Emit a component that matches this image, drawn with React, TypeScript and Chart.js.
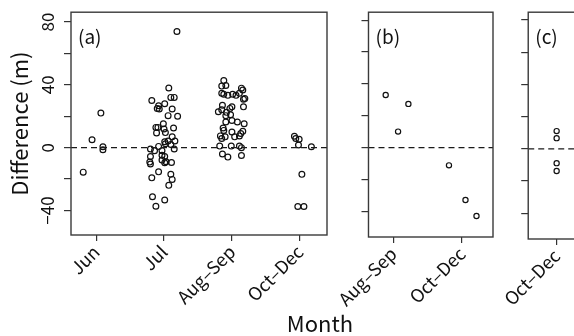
import React, { useEffect, useRef } from "react";
import { Chart, registerables } from "chart.js";

Chart.register(...registerables);

const FONT = "'Noto Sans CJK JP', 'DejaVu Sans', sans-serif";

// categories per panel
const catsA = ["Jun", "Jul", "Aug–Sep", "Oct–Dec"];
const catsB = ["Aug–Sep", "Oct–Dec"];
const catsC = ["Oct–Dec"];
const yLabelValues = [-40, 0, 40, 80];

// [jittered category position, difference (m)]
const aJun: number[][] = [
  [0.81, -15.6], [0.94, 5], [1.07, 22], [1.1, 0.6], [1.1, -1.3],
];
const aJul: number[][] = [
  [2.19, 74], [2.07, 38], [1.82, 30], [2.1, 32], [2.15, 32],
  [1.92, 26.7], [2.01, 28], [1.93, 24.6], [1.9, 25], [2.12, 24.6],
  [2.06, 20.4], [2.2, 20], [1.99, 15.2], [1.88, 12.9], [1.91, 12.9],
  [2.0, 11.9], [2.14, 12.5], [1.89, 9.4], [2.02, 9.6], [2.12, 6.9],
  [2.01, 3.8], [2.06, 4.2], [2.16, 4.2], [2.02, 2.5], [2.1, 2],
  [1.92, 0.8], [1.8, -0.8], [1.86, -1.9], [1.97, -1.9], [2.15, -0.8],
  [1.97, -4.9], [2.01, -5.6], [1.97, -7.9], [2.03, -9], [2.01, -9.6],
  [1.8, -5.6], [1.79, -9.2], [1.8, -10.4], [2.11, -9.4], [1.92, -15.4],
  [2.1, -17], [2.12, -20.2], [1.82, -19.2], [2.07, -24], [1.83, -31.2],
  [2.01, -33.3], [1.88, -37.3],
];
const aAugSep: number[][] = [
  [2.88, 42.7], [2.85, 39.2], [2.91, 39.6], [2.85, 34.6], [2.88, 34],
  [2.94, 33.3], [3.01, 34], [3.06, 33.3], [3.14, 37.9], [3.16, 36.7],
  [3.11, 34.6], [3.19, 31.3], [3.17, 30.8], [2.86, 27], [3.0, 26],
  [2.97, 25], [3.17, 26], [2.8, 22.9], [2.85, 24.2], [2.92, 22.5],
  [2.91, 20.4], [2.98, 21], [3.08, 16.3], [3.18, 15.2], [3.0, 17.3],
  [2.91, 16.3], [2.87, 12.5], [2.88, 11], [3.0, 10], [3.16, 10.4],
  [3.13, 9], [3.11, 7.5], [2.83, 7.5], [2.9, 6.9], [2.85, 5.8],
  [3.04, 6.9], [2.82, 1], [2.99, 1], [3.11, 1], [3.14, 0],
  [2.86, -4], [2.94, -6], [3.14, -5],
];
const aOctDec: number[][] = [
  [3.92, 7.3], [3.94, 5.8], [3.99, 5.4], [3.98, 1.7], [4.17, 0.6],
  [4.03, -17], [3.97, -37.5], [4.06, -37.5],
];
const bAugSep: number[][] = [[0.89, 33], [1.07, 10], [1.22, 27.4]];
const bOctDec: number[][] = [[1.81, -11.2], [2.05, -33], [2.21, -43]];
const cOctDec: number[][] = [[1, 11], [1, 6.6], [1, -8.9], [1, -13.8]];

type PanelProps = {
  left: number;
  width: number;
  top: number;
  right: number;
  yWidth: number;
  xHeight: number;
  xMin: number;
  xMax: number;
  yMin: number;
  yMax: number;
  cats: string[];
  points: number[][];
  tag: string;
  yLabels: boolean;
  radius: number;
};

const fmt = (v: number) => (v < 0 ? "\u2212" + Math.abs(v) : String(v));

function Panel(p: PanelProps) {
  const ref = useRef<HTMLCanvasElement | null>(null);
  useEffect(() => {
    if (!ref.current) return;
    const boxPlugin = {
      id: "box" + p.tag,
      afterDraw(chart: any) {
        const { ctx, chartArea } = chart;
        ctx.save();
        ctx.strokeStyle = "#3a3a3a";
        ctx.lineWidth = 1.4;
        ctx.strokeRect(chartArea.left, chartArea.top, chartArea.right - chartArea.left, chartArea.bottom - chartArea.top);
        ctx.fillStyle = "#111";
        ctx.font = `19px ${FONT}`;
        ctx.textBaseline = "alphabetic";
        ctx.textAlign = "left";
        ctx.fillText(p.tag, chartArea.left + 7, chartArea.top + 32);
        ctx.restore();
      },
    };
    const chart = new Chart(ref.current, {
      type: "scatter",
      data: {
        datasets: [
          {
            data: [
              { x: p.xMin, y: 0 },
              { x: p.xMax, y: 0 },
            ],
            showLine: true,
            borderColor: "#1a1a1a",
            borderWidth: 1.2,
            borderDash: [6, 4],
            pointRadius: 0,
          },
          {
            data: p.points.map((d) => ({ x: d[0], y: d[1] })),
            pointRadius: p.radius,
            pointBorderWidth: 1.2,
            borderColor: "#111",
            backgroundColor: "rgba(0,0,0,0)",
          },
        ],
      },
      options: {
        responsive: false,
        animation: false,
        events: [],
        layout: { padding: { left: 0, top: p.top, right: p.right, bottom: 0 } },
        plugins: { legend: { display: false }, tooltip: { enabled: false } },
        scales: {
          x: {
            type: "linear",
            min: p.xMin,
            max: p.xMax,
            border: { display: false },
            grid: { drawOnChartArea: false, drawTicks: true, tickLength: 6, color: "#333", lineWidth: 1.2 },
            ticks: {
              stepSize: 1,
              includeBounds: false,
              autoSkip: false,
              minRotation: 45,
              maxRotation: 45,
              padding: 0,
              color: "#111",
              font: { family: FONT, size: 18 },
              callback: (v: any) => p.cats[Math.round(Number(v)) - 1] ?? "",
            },
            afterFit: (s: any) => {
              s.height = p.xHeight;
            },
          },
          y: {
            type: "linear",
            min: p.yMin,
            max: p.yMax,
            border: { display: false },
            grid: { drawOnChartArea: false, drawTicks: true, tickLength: 7, color: "#333", lineWidth: 1.2 },
            ticks: {
              stepSize: 20,
              includeBounds: false,
              minRotation: 90,
              maxRotation: 90,
              crossAlign: "center",
              padding: 2,
              color: "#111",
              font: { family: FONT, size: 17 },
              callback: (v: any) =>
                p.yLabels && yLabelValues.includes(Number(v)) ? fmt(Number(v)) : "",
            },
            title: {
              display: p.yLabels,
              text: "Difference (m)",
              color: "#111",
              font: { family: FONT, size: 22 },
              padding: { top: 6, bottom: 0 },
            },
            afterFit: (s: any) => {
              s.width = p.yWidth;
            },
          },
        },
      },
      plugins: [boxPlugin],
    } as any);
    return () => chart.destroy();
  }, []);
  return (
    <canvas
      ref={ref}
      width={p.width}
      height={336}
      style={{ position: "absolute", left: p.left, top: 0, width: p.width, height: 336 }}
    />
  );
}

export default function App() {
  return (
    <div
      style={{
        position: "fixed",
        left: 0,
        top: 0,
        width: 574,
        height: 336,
        overflow: "hidden",
        background: "#fff",
      }}
    >
      <Panel
        left={0}
        width={337}
        top={8}
        right={10}
        yWidth={71}
        xHeight={101}
        xMin={0.63}
        xMax={4.4}
        yMin={-55.6}
        yMax={86.25}
        cats={catsA}
        points={[...aJun, ...aJul, ...aAugSep, ...aOctDec]}
        tag="(a)"
        yLabels={true}
        radius={2.9}
      />
      <Panel
        left={340}
        width={160}
        top={10}
        right={7}
        yWidth={8}
        xHeight={99}
        xMin={0.64}
        xMax={2.45}
        yMin={-56.2}
        yMax={85}
        cats={catsB}
        points={[...bAugSep, ...bOctDec]}
        tag="(b)"
        yLabels={false}
        radius={2.6}
      />
      <Panel
        left={505}
        width={140}
        top={12}
        right={0}
        yWidth={9}
        xHeight={97}
        xMin={0.59}
        xMax={2.2}
        yMin={-56}
        yMax={84.8}
        cats={catsC}
        points={cOctDec}
        tag="(c)"
        yLabels={false}
        radius={2.6}
      />
      <div
        style={{
          position: "absolute",
          left: 320,
          top: 309,
          transform: "translateX(-50%)",
          fontFamily: FONT,
          fontSize: 22,
          lineHeight: "26px",
          color: "#111",
          whiteSpace: "nowrap",
        }}
      >
        Month
      </div>
    </div>
  );
}
